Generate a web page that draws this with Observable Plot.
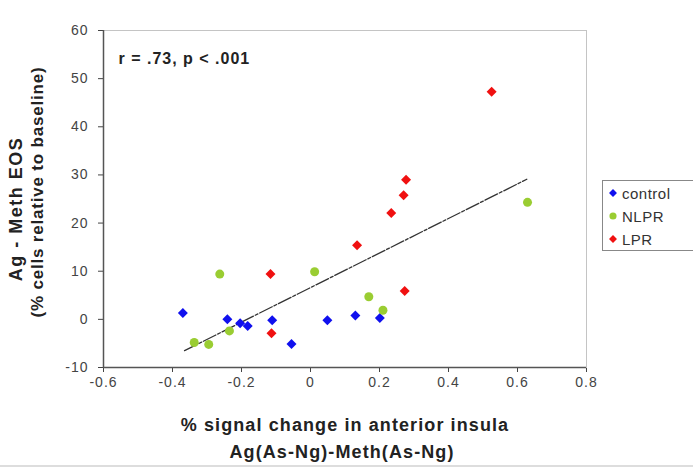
<!DOCTYPE html>
<html><head><meta charset="utf-8">
<script src="https://cdn.jsdelivr.net/npm/d3@7"></script>
<script src="https://cdn.jsdelivr.net/npm/@observablehq/plot@0.6"></script>
<style>
body{margin:0;background:#fff;font-family:"Liberation Sans",Arial,sans-serif;}
#wrap{position:relative;width:693px;height:470px;overflow:hidden;background:#fff;}
#wrap svg{position:absolute;left:0;top:0;}
.ttl{position:absolute;font-weight:bold;color:#222;white-space:nowrap;text-align:center;}
.ttl span{display:block;position:relative;}
#ylab{left:27px;top:200px;transform:translate(-50%,-50%) rotate(-90deg);line-height:21px;}
#ylab .l0{font-size:18px;letter-spacing:1.5px;left:-9px;}
#ylab .l1{font-size:17px;letter-spacing:0.8px;left:8px;}
#xlab{left:345px;top:439px;transform:translate(-50%,-50%);font-size:18px;letter-spacing:1.1px;line-height:27px;}
#xlab .l1{left:-3px;}
#legend{position:absolute;left:602px;top:180px;width:92px;height:71px;border:1px solid #888;box-sizing:border-box;background:#fff;font-size:15px;letter-spacing:0.5px;color:#333;}
#legend .it{position:absolute;left:4px;display:flex;align-items:center;gap:3px;}
#bline{position:absolute;left:0;top:465px;width:693px;height:2px;background:#ddd;}
</style></head><body><div id="wrap"><div id="bline"></div></div>
<script>
const groups = ["control", "NLPR", "LPR"];
const groupColors = ["#1010ee", "#9acd32", "#f01010"];
const groupSymbols = ["diamond2", "circle", "diamond2"];

const controlX = [-0.370, -0.241, -0.204, -0.182, -0.111, -0.055, 0.049, 0.130, 0.201];
const controlY = [1.3, 0.0, -0.8, -1.4, -0.2, -5.1, -0.2, 0.8, 0.3];

const nlprX = [-0.263, 0.012, -0.235, -0.337, -0.295, 0.169, 0.210, 0.629];
const nlprY = [9.4, 9.9, -2.4, -4.8, -5.2, 4.7, 1.9, 24.3];

const lprX = [0.525, 0.277, 0.270, 0.234, 0.135, 0.273, -0.116, -0.113];
const lprY = [47.3, 29.0, 25.8, 22.1, 15.4, 5.9, 9.4, -2.9];

const fitX = [-0.365, 0.627];
const fitY = [-6.5, 29.1];

const xTicks = [-0.6, -0.4, -0.2, 0, 0.2, 0.4, 0.6, 0.8];
const xTickLabels = ["-0.6", "-0.4", "-0.2", "0", "0.2", "0.4", "0.6", "0.8"];
const yTicks = [-10, 0, 10, 20, 30, 40, 50, 60];
const yTickLabels = ["-10", "0", "10", "20", "30", "40", "50", "60"];

const annotation = "r = .73, p < .001";
const xTitle = ["% signal change in anterior insula", "Ag(As-Ng)-Meth(As-Ng)"];
const yTitle = ["Ag - Meth EOS", "(% cells relative to baseline)"];

const points = [
  ...controlX.map((x, i) => ({x, y: controlY[i], group: "control"})),
  ...nlprX.map((x, i) => ({x, y: nlprY[i], group: "NLPR"})),
  ...lprX.map((x, i) => ({x, y: lprY[i], group: "LPR"}))
];
const fit = fitX.map((x, i) => ({x, y: fitY[i]}));

const chart = Plot.plot({
  width: 693,
  height: 470,
  marginLeft: 103,
  marginRight: 107,
  marginTop: 30,
  marginBottom: 103,
  style: {fontFamily: "'Liberation Sans', Arial, sans-serif", fontSize: "14px", color: "#444", background: "transparent", letterSpacing: "1px"},
  x: {domain: [-0.6, 0.8], ticks: xTicks, tickFormat: d => xTickLabels[xTicks.indexOf(d)], tickSize: 5, tickPadding: 5, label: null},
  y: {domain: [-10, 60], ticks: yTicks, tickFormat: d => yTickLabels[yTicks.indexOf(d)], tickSize: 5, tickPadding: 10, label: null},
  color: {domain: groups, range: groupColors},
  symbol: {domain: groups, range: groupSymbols},
  marks: [
    Plot.frame({stroke: "#c4c4c4"}),
    Plot.ruleX([-0.6], {stroke: "#555", strokeWidth: 1.5}),
    Plot.ruleY([-10], {stroke: "#555", strokeWidth: 1.5}),
    Plot.line(fit, {x: "x", y: "y", stroke: "#333", strokeWidth: 1.3, strokeDasharray: "14,2,3,2"}),
    Plot.dot(points, {x: "x", y: "y", fill: "group", symbol: "group", r: 4.5, stroke: null}),
    Plot.text([annotation], {frameAnchor: "top-left", dx: 15, dy: 22, fontWeight: "bold", fontSize: 16, fill: "#222", textAnchor: "start"})
  ]
});
const wrap = document.getElementById("wrap");
wrap.appendChild(chart);

const ylab = document.createElement("div");
ylab.className = "ttl"; ylab.id = "ylab";
ylab.innerHTML = yTitle.map((t, i) => `<span class="l${i}">${t}</span>`).join("");
wrap.appendChild(ylab);

const xlab = document.createElement("div");
xlab.className = "ttl"; xlab.id = "xlab";
xlab.innerHTML = xTitle.map((t, i) => `<span class="l${i}">${t}</span>`).join("");
wrap.appendChild(xlab);

const legend = document.createElement("div");
legend.id = "legend";
groups.forEach((g, i) => {
  const it = document.createElement("div");
  it.className = "it";
  it.style.top = (3 + i * 23) + "px";
  const path = d3.symbol(groupSymbols[i] === "circle" ? d3.symbolCircle : d3.symbolDiamond2, 40)();
  it.innerHTML = `<svg width="12" height="18" style="position:static"><path d="${path}" transform="translate(6,9)" fill="${groupColors[i]}"/></svg><span>${g}</span>`;
  legend.appendChild(it);
});
wrap.appendChild(legend);
</script>
</body></html>
